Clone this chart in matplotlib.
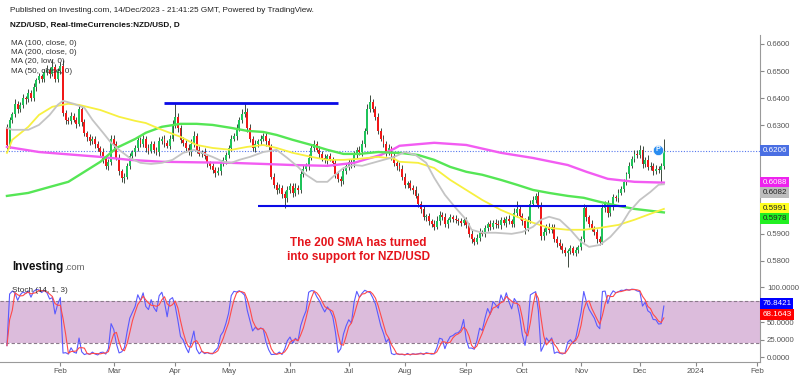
import numpy as np
import pandas as pd
import matplotlib
matplotlib.use("Agg")
import matplotlib.pyplot as plt

plt.rcParams['font.family'] = ['Liberation Sans', 'DejaVu Sans']

# ---- daily NZD/USD candles, 4 Jan 2023 .. 14 Dec 2023 ----
first_open = 0.6294
closes = [
    # Jan
    0.6227, 0.6320, 0.6340, 0.6380, 0.6360, 0.6375, 0.6400, 0.6395, 0.6420, 0.6400,
    0.6440, 0.6465, 0.6480, 0.6470, 0.6495, 0.6505, 0.6490, 0.6515, 0.6470, 0.6500,
    # Feb
    0.6520, 0.6345, 0.6320, 0.6315, 0.6335, 0.6320, 0.6305, 0.6360, 0.6310, 0.6270,
    0.6255, 0.6240, 0.6250, 0.6230, 0.6215, 0.6200, 0.6175, 0.6150, 0.6165, 0.6250,
    # Mar
    0.6230, 0.6180, 0.6130, 0.6105, 0.6110, 0.6150, 0.6185, 0.6200, 0.6215, 0.6245,
    0.6230, 0.6250, 0.6215, 0.6205, 0.6230, 0.6210, 0.6200, 0.6240, 0.6250, 0.6235,
    0.6225, 0.6250, 0.6300,
    # Apr
    0.6330, 0.6290, 0.6245, 0.6235, 0.6215, 0.6200, 0.6230, 0.6260, 0.6210, 0.6195,
    0.6200, 0.6185, 0.6160, 0.6150, 0.6135, 0.6125, 0.6130, 0.6160, 0.6170, 0.6190,
    # May
    0.6215, 0.6250, 0.6260, 0.6290, 0.6320, 0.6340, 0.6350, 0.6290, 0.6250, 0.6215,
    0.6230, 0.6240, 0.6250, 0.6260, 0.6240, 0.6220, 0.6110, 0.6080, 0.6060, 0.6070,
    0.6045, 0.6030, 0.6060,
    # Jun
    0.6075, 0.6050, 0.6070, 0.6060, 0.6120, 0.6140, 0.6150, 0.6180, 0.6215, 0.6230,
    0.6210, 0.6195, 0.6180, 0.6170, 0.6185, 0.6175, 0.6160, 0.6120, 0.6100, 0.6095,
    0.6130, 0.6150,
    # Jul
    0.6165, 0.6155, 0.6190, 0.6210, 0.6200, 0.6230, 0.6280, 0.6360, 0.6385, 0.6360,
    0.6330, 0.6280, 0.6250, 0.6230, 0.6200, 0.6215, 0.6185, 0.6160, 0.6150, 0.6140,
    0.6110,
    # Aug
    0.6080, 0.6085, 0.6070, 0.6060, 0.6040, 0.6010, 0.5990, 0.5960, 0.5965, 0.5945,
    0.5935, 0.5925, 0.5945, 0.5970, 0.5960, 0.5935, 0.5950, 0.5960, 0.5955, 0.5950,
    0.5945, 0.5940, 0.5950,
    # Sep
    0.5930, 0.5900, 0.5880, 0.5870, 0.5885, 0.5905, 0.5900, 0.5920, 0.5935, 0.5925,
    0.5940, 0.5935, 0.5930, 0.5950, 0.5940, 0.5955, 0.5945, 0.5935, 0.5975, 0.5990,
    0.5965,
    # Oct
    0.5945, 0.5920, 0.5950, 0.6010, 0.6025, 0.6040, 0.6005, 0.5890, 0.5905, 0.5925,
    0.5915, 0.5925, 0.5880, 0.5865, 0.5855, 0.5840, 0.5830, 0.5835, 0.5845, 0.5830,
    0.5840, 0.5850,
    # Nov
    0.5880, 0.5995, 0.5960, 0.5935, 0.5920, 0.5905, 0.5880, 0.5870, 0.5995, 0.6010,
    0.5975, 0.6000, 0.6035, 0.6030, 0.6050, 0.6065, 0.6090, 0.6120, 0.6150, 0.6175,
    0.6195, 0.6190,
    # Dec
    0.6210, 0.6155, 0.6170, 0.6145, 0.6150, 0.6130, 0.6140, 0.6135, 0.6150, 0.6206,
]
# upper / lower wick lengths in pips
hi_wick_pips = [
    10, 12, 8, 15, 10, 9, 14, 8, 12, 10, 15, 9, 12, 10, 14, 18, 10, 30, 12, 10,
    14, 20, 12, 10, 15, 9, 12, 15, 10, 12, 8, 14, 10, 9, 12, 10, 15, 10, 12, 15,
    12, 10, 15, 8, 12, 10, 14, 9, 12, 15, 10, 12, 9, 14, 10, 12, 8, 15, 10, 12, 9, 14, 20,
    52, 15, 10, 12, 9, 14, 18, 20, 10, 12, 9, 15, 10, 8, 12, 10, 14, 9, 12, 10,
    12, 15, 10, 14, 12, 20, 32, 12, 15, 10, 14, 9, 12, 10, 15, 12, 10, 12, 9, 14, 10, 12, 15,
    12, 10, 15, 9, 14, 12, 10, 15, 12, 14, 10, 12, 9, 15, 10, 12, 9, 14, 10, 12, 15, 10,
    12, 10, 14, 9, 12, 15, 10, 20, 27, 12, 10, 14, 9, 12, 10, 15, 9, 12, 10, 14, 12,
    15, 10, 12, 9, 14, 10, 12, 15, 9, 12, 10, 14, 20, 12, 10, 15, 9, 12, 10, 14, 9, 12, 10,
    12, 10, 14, 9, 12, 15, 10, 12, 9, 14, 10, 12, 15, 10, 12, 9, 14, 10, 20, 30, 12,
    10, 12, 15, 14, 12, 10, 18, 12, 15, 10, 14, 9, 12, 10, 15, 12, 10, 9, 14, 10, 12, 9,
    10, 15, 12, 10, 14, 9, 12, 10, 15, 12, 14, 10, 12, 9, 14, 10, 12, 9, 14, 10, 12, 15,
    17, 15, 12, 20, 14, 10, 12, 9, 12, 44,
]
lo_wick_pips = [
    15, 10, 12, 9, 14, 10, 12, 15, 9, 12, 10, 14, 9, 12, 10, 8, 14, 10, 12, 9,
    10, 12, 15, 9, 12, 10, 14, 9, 12, 10, 15, 12, 9, 14, 10, 12, 15, 10, 14, 12,
    15, 10, 12, 14, 20, 9, 12, 10, 14, 9, 12, 10, 15, 12, 9, 14, 10, 12, 9, 15, 10, 12, 9,
    12, 14, 10, 12, 15, 9, 12, 10, 14, 9, 12, 10, 15, 12, 10, 18, 9, 12, 10, 14,
    10, 12, 9, 14, 10, 12, 9, 15, 12, 10, 14, 9, 12, 10, 15, 12, 10, 12, 14, 10, 12, 35, 12,
    10, 14, 12, 15, 9, 12, 10, 14, 9, 12, 10, 15, 12, 10, 14, 9, 12, 15, 10, 20, 12, 10,
    14, 12, 10, 12, 9, 14, 10, 12, 10, 12, 9, 14, 10, 12, 15, 10, 12, 9, 14, 10, 12,
    10, 12, 9, 14, 10, 12, 15, 10, 12, 14, 10, 12, 9, 14, 10, 12, 15, 9, 12, 10, 14, 12, 10,
    10, 12, 15, 14, 10, 12, 9, 14, 10, 12, 9, 14, 10, 12, 9, 15, 10, 12, 9, 14, 10,
    12, 20, 10, 12, 9, 14, 10, 15, 12, 10, 14, 12, 10, 15, 12, 10, 14, 55, 12, 10, 14, 12,
    12, 10, 14, 9, 12, 10, 15, 12, 10, 14, 12, 9, 14, 10, 12, 9, 12, 10, 14, 9, 12, 10,
    10, 14, 9, 12, 10, 14, 9, 12, 47, 10,
]

# ---- moving averages (bar index, value) ----
ma100_idx = [0, 8, 16, 23, 29, 35, 41, 48, 52, 58, 65, 71, 77, 84, 90, 96, 101, 107, 114, 120,
             126, 132, 139, 145, 147, 154, 160, 166, 172, 178, 185, 191, 197, 203, 210, 216,
             222, 229, 235, 241, 246]
ma100_val = [0.6039, 0.6050, 0.6072, 0.6091, 0.6128, 0.6165, 0.6216, 0.6249, 0.6272, 0.6294,
             0.6305, 0.6305, 0.6301, 0.6290, 0.6279, 0.6275, 0.6264, 0.6246, 0.6227, 0.6209,
             0.6194, 0.6194, 0.6201, 0.6198, 0.6198, 0.6190, 0.6172, 0.6146, 0.6128, 0.6117,
             0.6098, 0.6080, 0.6061, 0.6050, 0.6039, 0.6032, 0.6017, 0.6002, 0.5991, 0.5984,
             0.5978]
ma200_idx = [0, 12, 35, 46, 58, 84, 96, 107, 120, 130, 135, 140, 145, 147, 160, 172, 185, 197,
             210, 217, 225, 235, 246]
ma200_val = [0.6220, 0.6201, 0.6183, 0.6172, 0.6165, 0.6161, 0.6157, 0.6153, 0.6150, 0.6161,
             0.6176, 0.6190, 0.6213, 0.6224, 0.6235, 0.6227, 0.6198, 0.6179, 0.6153, 0.6128,
             0.6102, 0.6091, 0.6088]
ma20_idx = [0, 2, 8, 12, 16, 19, 21, 25, 29, 32, 36, 39, 42, 46, 50, 54, 58, 62, 66, 70, 73,
            77, 81, 84, 87, 91, 96, 101, 105, 109, 112, 116, 120, 122, 126, 130, 133, 137,
            141, 145, 149, 153, 157, 160, 164, 168, 172, 174, 178, 183, 189, 193, 197, 200,
            203, 207, 211, 215, 218, 222, 226, 230, 233, 237, 241, 244, 246]
ma20_val = [0.6290, 0.6283, 0.6283, 0.6301, 0.6338, 0.6375, 0.6390, 0.6379, 0.6364, 0.6320,
            0.6272, 0.6235, 0.6209, 0.6179, 0.6161, 0.6157, 0.6161, 0.6172, 0.6198, 0.6209,
            0.6198, 0.6183, 0.6165, 0.6161, 0.6172, 0.6183, 0.6201, 0.6209, 0.6179, 0.6146,
            0.6117, 0.6091, 0.6091, 0.6109, 0.6142, 0.6153, 0.6150, 0.6161, 0.6172, 0.6183,
            0.6201, 0.6190, 0.6161, 0.6106, 0.6043, 0.5995, 0.5951, 0.5914, 0.5903, 0.5903,
            0.5899, 0.5906, 0.5925, 0.5951, 0.5962, 0.5951, 0.5914, 0.5869, 0.5851, 0.5858,
            0.5888, 0.5932, 0.5980, 0.6024, 0.6054, 0.6080, 0.6082]
ma50_idx = [0, 2, 8, 12, 17, 23, 27, 35, 42, 48, 52, 58, 65, 71, 77, 84, 90, 96, 101, 107, 114,
            120, 126, 132, 139, 145, 147, 154, 160, 166, 172, 178, 185, 191, 197, 203, 210,
            216, 222, 229, 235, 241, 246]
ma50_val = [0.6198, 0.6246, 0.6294, 0.6338, 0.6368, 0.6379, 0.6375, 0.6356, 0.6331, 0.6316,
            0.6308, 0.6283, 0.6257, 0.6227, 0.6216, 0.6209, 0.6220, 0.6227, 0.6216, 0.6198,
            0.6183, 0.6172, 0.6172, 0.6176, 0.6183, 0.6176, 0.6165, 0.6161, 0.6142, 0.6098,
            0.6061, 0.6024, 0.5987, 0.5962, 0.5940, 0.5921, 0.5914, 0.5914, 0.5921, 0.5932,
            0.5951, 0.5973, 0.5991]

last_price = 0.6206
resistance_price = 0.6383
resistance_span = (59, 124)
support_price = 0.6002
support_span = (94, 232)

price_ticks = [0.58, 0.59, 0.63, 0.64, 0.65, 0.66]
stoch_ticks = [0, 25, 50, 100]
price_tags = ["0.6206", "0.6088", "0.6082", "0.5991", "0.5978"]
stoch_tags = ["76.8421", "68.1643"]
legend_names = ["MA (100, close, 0)", "MA (200, close, 0)", "MA (20, low, 0)", "MA (50, close, 0)"]

# ---- derived candle arrays ----
c = np.array(closes)
o = np.concatenate([[first_open], c[:-1]])
hi = np.maximum(o, c) + np.array(hi_wick_pips) / 1e4
lo = np.minimum(o, c) - np.array(lo_wick_pips) / 1e4
idx = np.arange(len(c))
up = c >= o

# stochastic (14, 1, 3)
hh = pd.Series(hi).rolling(14, min_periods=1).max()
ll = pd.Series(lo).rolling(14, min_periods=1).min()
stoch_k = 100 * (pd.Series(c) - ll) / (hh - ll)
stoch_d = stoch_k.rolling(3, min_periods=1).mean()

# ---- figure ----
fig = plt.figure(figsize=(8, 3.76), dpi=100)
fig.patch.set_facecolor('white')
ax = fig.add_axes([0, 0.2527, 0.95, 0.6543])
ax2 = fig.add_axes([0, 0.0372, 0.95, 0.2155], sharex=ax)

xmin, xmax = -2.6, 282
ax.set_xlim(xmin, xmax)
ax.set_ylim(0.5725, 0.6633)

ax.axhline(last_price, color='#5577ee', lw=0.8, ls=(0, (1, 1.5)), zorder=1)

ax.vlines(idx, lo, hi, color='#3f4a3f', lw=0.7, zorder=2)
ax.bar(idx, np.maximum(np.abs(c - o), 0.00025), bottom=np.minimum(o, c), width=0.72,
       color=np.where(up, '#1fc35a', '#f01818'), linewidth=0, zorder=3)

ax.plot(ma200_idx, ma200_val, color='#f25cf2', lw=1.7, zorder=4)
ax.plot(ma100_idx, ma100_val, color='#55e655', lw=1.7, zorder=4)
ax.plot(ma50_idx, ma50_val, color='#f7f040', lw=1.3, zorder=4)
ax.plot(ma20_idx, ma20_val, color='#c4c4c4', lw=1.3, zorder=4)

ax.hlines(resistance_price, *resistance_span, color='#0a0ae6', lw=2.0, zorder=5)
ax.hlines(support_price, *support_span, color='#0a0ae6', lw=1.5, zorder=5)

# "P" marker near the last bars
ax.scatter([243.8], [0.6209], s=55, color='#2a8cf0', zorder=6, edgecolor='white', linewidth=0.5)
ax.text(243.8, 0.6209, 'P', color='white', fontsize=5, fontweight='bold', ha='center',
        va='center', zorder=7)

ax.text(131.5, 0.5840, "The 200 SMA has turned\ninto support for NZD/USD", color='#e5141b',
        fontsize=8.5, fontweight='bold', ha='center', va='center', linespacing=1.15, zorder=6)

# price axis
for side in ['left', 'top', 'bottom']:
    ax.spines[side].set_visible(False)
ax.spines['right'].set_color('#9a9a9a')
ax.yaxis.tick_right()
ax.set_yticks(price_ticks)
ax.yaxis.set_major_formatter(plt.FormatStrFormatter('%.4f'))
ax.tick_params(axis='y', length=3, color='#888888', labelsize=5.6, labelcolor='#555555', pad=2)
ax.tick_params(axis='x', bottom=False, labelbottom=False)

tag_colors = ['#4a6fe3', '#ee22ee', '#bdbdbd', '#ffff22', '#22f022']
tag_text = ['white', 'white', '#222222', '#222222', '#222222']
tag_pos = [0.6206, 0.6088, 0.6050, 0.5991, 0.5954]
for label, col, tc, pos in zip(price_tags, tag_colors, tag_text, tag_pos):
    ax.text(1.003, pos, label, transform=ax.get_yaxis_transform(), color=tc, fontsize=5.8,
            ha='left', va='center', clip_on=False, zorder=10,
            bbox=dict(boxstyle='square,pad=0.25', fc=col, ec='none'))

# stochastic panel
ax2.set_ylim(-7.1, 108.6)
ax2.axhspan(20, 80, color='#dcbcdc', lw=0, zorder=0)
ax2.axhline(80, color='#8a7a8a', lw=0.8, ls=(0, (3, 2)), zorder=1)
ax2.axhline(20, color='#8a7a8a', lw=0.8, ls=(0, (3, 2)), zorder=1)
ax2.plot(idx, stoch_k, color='#5a5aff', lw=0.8, zorder=3)
ax2.plot(idx, stoch_d, color='#ff4a4a', lw=0.8, zorder=3)

for side in ['left', 'top']:
    ax2.spines[side].set_visible(False)
ax2.spines['right'].set_color('#9a9a9a')
ax2.spines['bottom'].set_color('#9a9a9a')
ax2.yaxis.tick_right()
ax2.set_yticks(stoch_ticks)
ax2.yaxis.set_major_formatter(plt.FormatStrFormatter('%.4f'))
ax2.tick_params(axis='y', length=3, color='#888888', labelsize=5.6, labelcolor='#555555', pad=2)

stoch_colors = ['#0000ff', '#ff0000']
stoch_pos = [76.84, 61.4]
for label, col, pos in zip(stoch_tags, stoch_colors, stoch_pos):
    ax2.text(1.003, pos, label, transform=ax2.get_yaxis_transform(), color='white', fontsize=5.8,
             ha='left', va='center', clip_on=False, zorder=10,
             bbox=dict(boxstyle='square,pad=0.25', fc=col, ec='none'))

# month ticks on trading-day axis
all_days = pd.bdate_range('2023-01-04', '2024-02-29')
months = all_days.to_period('M')
starts = [i for i in range(1, len(all_days)) if months[i] != months[i - 1] and i <= xmax]
labels = [str(all_days[i].year) if all_days[i].month == 1 else all_days[i].strftime('%b')
          for i in starts]
ax2.set_xticks(starts)
ax2.set_xticklabels(labels)
ax2.tick_params(axis='x', length=3, color='#888888', labelsize=5.8, labelcolor='#555555', pad=1)

# header, legend and logo
fig.text(10 / 800, 1 - 10 / 376, "Published on Investing.com, 14/Dec/2023 - 21:41:25 GMT, Powered by TradingView.",
         fontsize=5.9, color='#222222', va='center')
fig.text(10 / 800, 1 - 25 / 376, "NZD/USD, Real-timeCurrencies:NZD/USD, D",
         fontsize=5.9, fontweight='bold', color='#111111', va='center')
for k, name in enumerate(legend_names):
    fig.text(11 / 800, 1 - (43.5 + 9.2 * k) / 376, name, fontsize=5.9, color='#333333', va='center')
fig.text(12 / 800, 1 - 290 / 376, "Stoch (14, 1, 3)", fontsize=5.9, color='#333333', va='center')
fig.text(12 / 800, 1 - 267 / 376, "Investing", fontsize=8.4, fontweight='bold', color='#111111', va='center')
fig.text(64 / 800, 1 - 268 / 376, ".com", fontsize=6.8, color='#666666', va='center')

fig.savefig('out.png', dpi=100, facecolor='white')
